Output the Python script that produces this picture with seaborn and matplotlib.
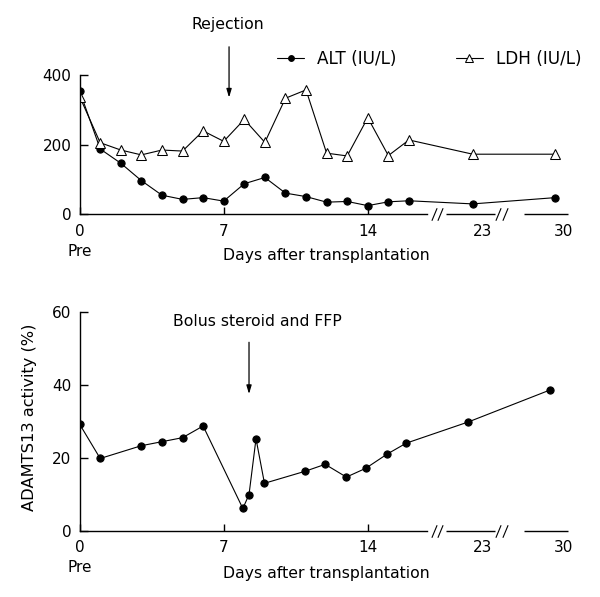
# -*- coding: utf-8 -*-
import matplotlib.pyplot as plt
import seaborn as sns

# x positions on the broken day axis (0-16 linear, then compressed segments)
TOP_POS = [0, 1, 2, 3, 4, 5, 6, 7, 8, 9, 10, 11, 12, 13, 14, 15, 16, 19.1, 23.1]
ALT = [355, 188, 147, 97, 55, 43, 48, 38, 88, 106, 61, 51, 35, 37, 25, 36, 39, 30, 48]
LDH = [339, 206, 185, 171, 185, 182, 240, 210, 273, 207, 334, 358, 176, 168, 278,
       169, 214, 173, 173]

BOT_POS = [0, 1, 3, 4, 5, 6, 7.93, 8.23, 8.57, 8.98, 10.96, 11.93, 12.96, 13.9,
           14.94, 15.87, 18.88, 22.87]
ADAMTS13 = [29.2, 19.8, 23.3, 24.4, 25.5, 28.7, 6.1, 9.9, 25.2, 13.0, 16.3, 18.2,
            14.7, 17.1, 21.0, 24.0, 29.8, 38.6]

MAJOR_POS = [0, 7, 14]
MAJOR_LABELS = ['0\nPre', '7', '14']
MINOR_POS = [19.6, 23.5]
MINOR_LABELS = ['23', '30']
AXIS_SEGMENTS = [(17.8, 20.2), (21.6, 23.75)]
BREAKS = [17.35, 20.5]
FONT = 11
TICKFONT = 11

sns.set_style('ticks')
plt.rcParams['font.family'] = ['DejaVu Sans']
plt.rcParams['text.color'] = 'black'
plt.rcParams['axes.labelcolor'] = 'black'
plt.rcParams['xtick.color'] = 'black'
plt.rcParams['ytick.color'] = 'black'
plt.rcParams['axes.edgecolor'] = 'black'
plt.rcParams['xtick.direction'] = 'in'
plt.rcParams['ytick.direction'] = 'in'


def style_axis(ax, ytop, yticks, label_y):
    sns.despine(ax=ax)
    ax.set_xlim(0, 24)
    ax.set_ylim(0, ytop)
    ax.spines['left'].set_bounds(0, yticks[-1])
    ax.spines['bottom'].set_bounds(0, 16.9)
    for sp in ['left', 'bottom']:
        ax.spines[sp].set_linewidth(1)
    for a, b in AXIS_SEGMENTS:
        ax.hlines(0, a, b, color='k', lw=1, clip_on=False)
    # "//" axis break marks
    for bx in BREAKS:
        ax.plot([bx - 0.15, bx + 0.15], [0, 0], ls='none',
                marker=[(-1, -2.4), (1, 2.4)], markersize=9,
                markeredgecolor='k', markeredgewidth=0.8, clip_on=False)
    ax.set_yticks(yticks)
    ax.set_xticks(MAJOR_POS, MAJOR_LABELS)
    ax.set_xticks(MINOR_POS, MINOR_LABELS, minor=True)
    ax.tick_params(axis='y', which='major', length=6, width=1,
                   labelsize=TICKFONT, pad=6)
    ax.tick_params(axis='x', which='major', length=5, width=1,
                   labelsize=TICKFONT, pad=7)
    ax.tick_params(axis='x', which='minor', length=0, labelsize=TICKFONT, pad=7)
    ax.set_xlabel('Days after transplantation', fontsize=FONT + 0.3)
    ax.xaxis.set_label_coords(0.5, label_y)
    for lab in ax.get_xticklabels():
        lab.set_linespacing(1.4)


fig = plt.figure(figsize=(6, 5.97), dpi=100)
ax1 = fig.add_axes([0.1327, 0.641, 0.8233, 0.326])
ax2 = fig.add_axes([0.1327, 0.111, 0.8233, 0.379])

line_kw = dict(color='black', linewidth=0.8, markeredgecolor='black')
sns.lineplot(x=TOP_POS, y=ALT, ax=ax1, marker='o', markersize=5.2,
             label='ALT (IU/L)', **line_kw)
sns.lineplot(x=TOP_POS, y=LDH, ax=ax1, marker='^', markersize=6.5,
             markerfacecolor='white', label='LDH (IU/L)', **line_kw)
style_axis(ax1, 560, [0, 200, 400], -0.175)
ax1.legend(loc='center left', bbox_to_anchor=(0.40, 0.80), ncol=2,
           frameon=False, fontsize=12.2, handlelength=1.6,
           columnspacing=3.5, markerscale=0.8, handletextpad=0.75,
           borderpad=0, borderaxespad=0)
ax1.annotate('', xy=(7.26, 328), xytext=(7.26, 490),
             arrowprops=dict(arrowstyle='-|>,head_width=0.15,head_length=0.5',
                             color='black', lw=0.9))
ax1.text(7.2, 545, 'Rejection', ha='center', va='center', fontsize=FONT + 0.3)

sns.lineplot(x=BOT_POS, y=ADAMTS13, ax=ax2, marker='o', markersize=5.2,
             **line_kw)
style_axis(ax2, 62, [0, 20, 40, 60], -0.157)
ax2.set_ylabel('ADAMTS13 activity (%)', fontsize=FONT + 0.7, labelpad=11)
ax2.annotate('', xy=(8.23, 36.7), xytext=(8.23, 52.4),
             arrowprops=dict(arrowstyle='-|>,head_width=0.15,head_length=0.5',
                             color='black', lw=0.9))
ax2.text(8.65, 57.3, 'Bolus steroid and FFP', ha='center', va='center',
         fontsize=FONT + 0.3)

fig.savefig('out.png', dpi=100)
